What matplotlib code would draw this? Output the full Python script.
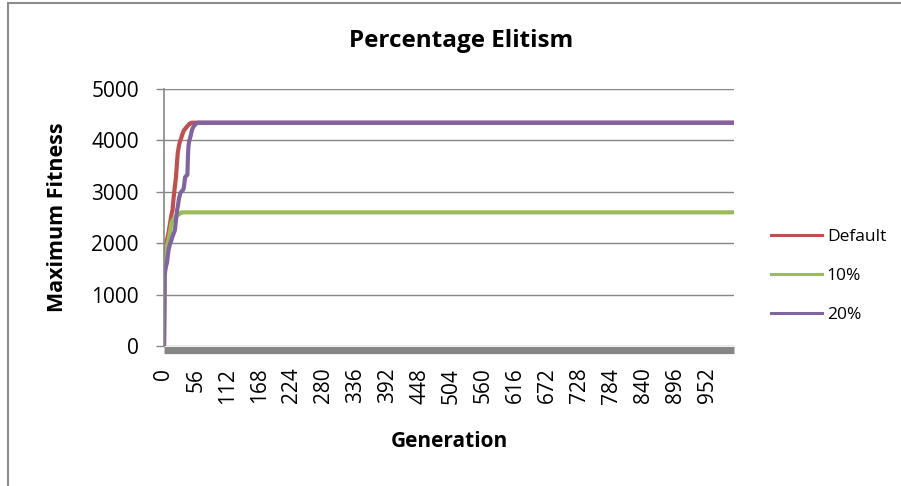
import numpy as np
import matplotlib.pyplot as plt
from matplotlib.patches import Rectangle

# Maximum fitness per generation for each elitism setting
n_generations = 1000
plateau_default = 4344
plateau_10 = 2600
plateau_20 = 4344

default_early = [0, 1450, 1700, 1850, 1950, 2050, 2100, 2150, 2200, 2280,
                 2350, 2420, 2480, 2550, 2600, 2650, 2780, 2900, 3000, 3100,
                 3200, 3290, 3450, 3600, 3750, 3820, 3880, 3940, 3975, 4010,
                 4050, 4080, 4110, 4140, 4170, 4200, 4210, 4220, 4240, 4250,
                 4260, 4280, 4290, 4300, 4320, 4320, 4330, 4330, 4340]
elit10_early = [0, 1500, 1700, 1800, 1870, 1930, 1980, 2030, 2080, 2130,
                2180, 2250, 2320, 2390, 2420, 2440, 2460, 2480, 2490, 2500,
                2510, 2520, 2530, 2540, 2550, 2560, 2560, 2570, 2580, 2590,
                2590]
elit20_early = [0, 1350, 1450, 1520, 1570, 1610, 1700, 1800, 1870, 1920,
                1960, 2000, 2030, 2060, 2100, 2130, 2160, 2190, 2220, 2250,
                2350, 2450, 2550, 2650, 2700, 2780, 2850, 2900, 2950, 2980,
                3000, 3010, 3020, 3030, 3050, 3100, 3200, 3280, 3300, 3310,
                3320, 3330, 3700, 3900, 3980, 4020, 4060, 4100, 4150, 4200,
                4230, 4250, 4270, 4290, 4300, 4310, 4320, 4330, 4335]

def full_run(early, plateau):
    return np.array(early + [plateau] * (n_generations - len(early)))

series = {
    "Default": full_run(default_early, plateau_default),
    "10%": full_run(elit10_early, plateau_10),
    "20%": full_run(elit20_early, plateau_20),
}
colors = {"Default": "#C0504D", "10%": "#9BBB59", "20%": "#8064A2"}
gens = np.arange(n_generations)
xticks = np.arange(0, 953, 56)
yticks = [0, 1000, 2000, 3000, 4000, 5000]

plt.rcParams['font.family'] = ['Open Sans', 'DejaVu Sans']
grey = "#868686"

fig = plt.figure(figsize=(9.01, 4.86), dpi=100)
ax = fig.add_axes([164/901, 1 - 346/486, (734 - 164)/901, (346 - 89)/486])

# chart frame (only left and top edges fall inside the image)
fig.patches.append(Rectangle((8/901, -0.1), 1.2, 1.1 - 3/486, transform=fig.transFigure,
                             fill=False, edgecolor="#8c8c8c", linewidth=1.5))

for name, vals in series.items():
    ax.plot(gens, vals, color=colors[name], linewidth=3, label=name,
            solid_joinstyle="round")

ax.set_xlim(0, n_generations - 1)
ax.set_ylim(0, 5000)
ax.set_yticks(yticks)
ax.set_xticks(xticks)
ax.set_xticklabels([str(t) for t in xticks])
ax.grid(axis="y", color=grey, linewidth=1)
ax.set_axisbelow(True)

for s in ["top", "right"]:
    ax.spines[s].set_visible(False)
ax.spines["left"].set_color(grey)
ax.spines["left"].set_linewidth(1.2)
ax.spines["bottom"].set_color(grey)
ax.spines["bottom"].set_linewidth(5.2)
ax.spines["bottom"].set_position(("outward", 2.6))
ax.spines["bottom"].set_capstyle("butt")

ax.tick_params(axis="y", length=6, width=1, color=grey, pad=12, labelsize=15)
ax.tick_params(axis="x", length=0, pad=13, labelsize=15, labelrotation=90)
for lab in ax.get_xticklabels():
    lab.set_verticalalignment("top")

# title is centred on the whole chart area, not the plot area
fig.text(461/901, 1 - 41/486, "Percentage Elitism", fontsize=17.5, fontweight="bold",
         ha="center", va="center")
ax.set_ylabel("Maximum Fitness", fontsize=15.5, fontweight="bold", labelpad=17)
ax.set_xlabel("Generation", fontsize=15, fontweight="bold", labelpad=20)

leg = ax.legend(loc="center left", bbox_to_anchor=(1.038, 0.272), frameon=False,
                fontsize=12.5, handlelength=2.9, labelspacing=1.3, handletextpad=0.3)
for h in leg.get_lines():
    h.set_linewidth(2.2)

fig.savefig("out.png", dpi=100)
